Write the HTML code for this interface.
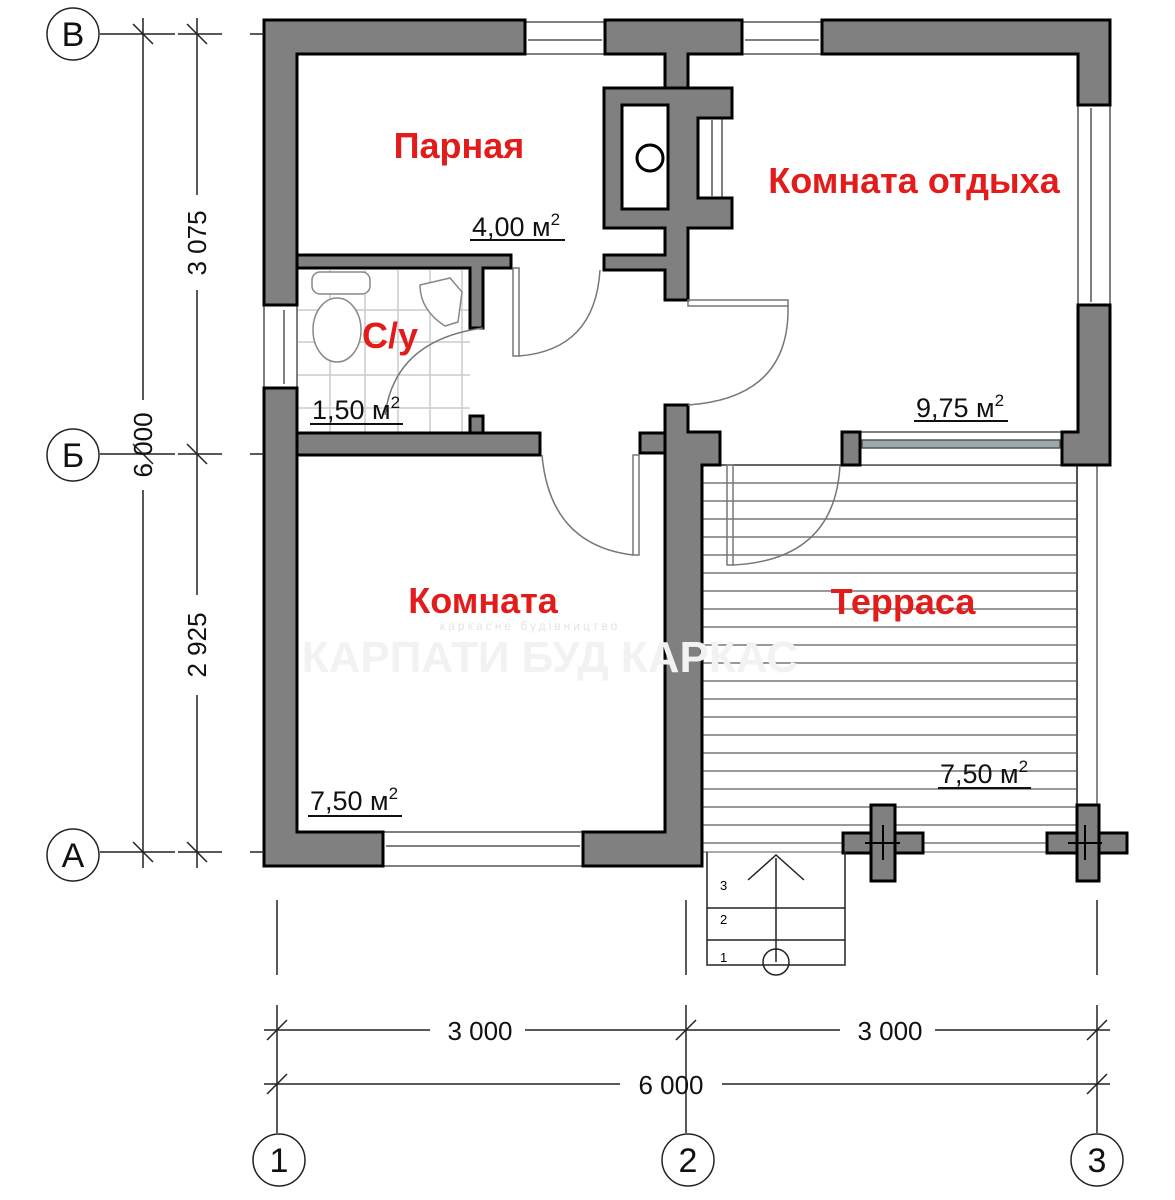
<!DOCTYPE html>
<html><head><meta charset="utf-8"><style>
html,body{margin:0;padding:0;background:#fff;}
svg{display:block;}
text{font-family:"Liberation Sans",sans-serif;}
.w{fill:#808080;stroke:#000;stroke-width:3;}
.r{fill:#e21b1b;font-weight:bold;font-size:36px;}
.a{font-size:27px;fill:#111;}
.d{font-size:26px;fill:#111;}
</style></head><body>
<svg width="1175" height="1200" viewBox="0 0 1175 1200" xmlns="http://www.w3.org/2000/svg">
<g stroke="#999" stroke-width="2">
<line x1="700" y1="483" x2="1077" y2="483"/><line x1="700" y1="501" x2="1077" y2="501"/><line x1="700" y1="519" x2="1077" y2="519"/><line x1="700" y1="537" x2="1077" y2="537"/><line x1="700" y1="555" x2="1077" y2="555"/><line x1="700" y1="573" x2="1077" y2="573"/><line x1="700" y1="591" x2="1077" y2="591"/><line x1="700" y1="609" x2="1077" y2="609"/><line x1="700" y1="627" x2="1077" y2="627"/><line x1="700" y1="645" x2="1077" y2="645"/><line x1="700" y1="663" x2="1077" y2="663"/><line x1="700" y1="681" x2="1077" y2="681"/><line x1="700" y1="699" x2="1077" y2="699"/><line x1="700" y1="717" x2="1077" y2="717"/><line x1="700" y1="735" x2="1077" y2="735"/><line x1="700" y1="753" x2="1077" y2="753"/><line x1="700" y1="771" x2="1077" y2="771"/><line x1="700" y1="789" x2="1077" y2="789"/><line x1="700" y1="807" x2="1077" y2="807"/><line x1="700" y1="825" x2="1077" y2="825"/><line x1="700" y1="843" x2="1077" y2="843"/>
</g>
<line x1="700" y1="465" x2="1077" y2="465" stroke="#333" stroke-width="1.5"/>
<line x1="1077" y1="465" x2="1077" y2="852" stroke="#555" stroke-width="2"/>
<line x1="1097" y1="465" x2="1097" y2="830" stroke="#888" stroke-width="2"/>
<line x1="700" y1="852" x2="1100" y2="852" stroke="#aaa" stroke-width="2"/>
<g stroke="#ccc" stroke-width="1.5">
<line x1="330" y1="270" x2="330" y2="432"/><line x1="365" y1="270" x2="365" y2="432"/><line x1="398" y1="270" x2="398" y2="432"/><line x1="430" y1="270" x2="430" y2="432"/><line x1="462" y1="270" x2="462" y2="432"/>
<line x1="297" y1="310" x2="470" y2="310"/><line x1="297" y1="342" x2="470" y2="342"/><line x1="297" y1="375" x2="470" y2="375"/><line x1="297" y1="408" x2="470" y2="408"/>
</g>
<rect x="312" y="272" width="58" height="22" rx="8" fill="#fff" stroke="#888" stroke-width="1.5"/>
<ellipse cx="337" cy="330" rx="24" ry="32" fill="#fff" stroke="#888" stroke-width="1.5"/>
<path d="M420 285 L450 278 L462 292 L458 322 L445 326 Q420 310 420 285Z" fill="#fff" stroke="#888" stroke-width="1.5"/>
<g fill="#fff" stroke="#555" stroke-width="1.5">
<rect x="525" y="22" width="80" height="32"/><line x1="528" y1="40" x2="602" y2="40"/>
<rect x="742" y="22" width="80" height="32"/><line x1="745" y1="40" x2="819" y2="40"/>
<rect x="1078" y="105" width="32" height="200"/><line x1="1091" y1="108" x2="1091" y2="302"/>
<rect x="264" y="305" width="33" height="83"/><line x1="284" y1="310" x2="284" y2="384"/>
<rect x="383" y="832" width="200" height="34"/><line x1="386" y1="846" x2="580" y2="846"/>
<rect x="860" y="432" width="202" height="33"/><rect x="862" y="440" width="198" height="8" fill="#9aa"/>
<rect x="698" y="118" width="24" height="80"/><line x1="712" y1="120" x2="712" y2="196"/>
</g>
<path class="w" d="M264 20 H525 V54 H297 V305 H264 Z"/>
<path class="w" d="M605 20 H742 V54 H688 V88 H665 V54 H605 Z"/>
<path class="w" d="M822 20 H1110 V105 H1078 V54 H822 Z"/>
<path class="w" d="M1078 305 H1110 V465 H1062 V432 H1078 Z"/>
<path class="w" d="M264 388 H297 V832 H383 V866 H264 Z"/>
<path class="w" d="M583 832 H665 V405 H688 V432 H720 V465 H702 V866 H583 Z"/>
<path class="w" d="M297 433 H540 V455 H297 Z"/>
<path class="w" d="M470 416 H483 V433 H470 Z"/>
<path class="w" d="M640 433 H665 V453 H640 Z"/>
<path class="w" d="M842 432 H860 V465 H842 Z"/>
<path class="w" d="M297 255 H511 V268 H483 V328 H470 V268 H297 Z"/>
<path class="w" d="M604 88 H732 V118 H698 V198 H732 V228 H688 V300 H665 V270 H604 V255 H665 V228 H604 Z"/>
<rect x="622" y="105" width="46" height="104" fill="#fff" stroke="#000" stroke-width="3"/>
<circle cx="650" cy="158" r="13" fill="none" stroke="#000" stroke-width="3"/>
<g fill="none" stroke="#777" stroke-width="1.5">
<rect x="513" y="268" width="6" height="88"/><path d="M519 356 Q595 350 600 270"/>
<rect x="688" y="300" width="100" height="6"/><path d="M788 306 Q790 398 688 405"/>
<path d="M483 328 Q395 340 385 415"/>
<rect x="633" y="455" width="6" height="100"/><path d="M542 455 Q550 545 633 555"/>
<rect x="727" y="465" width="6" height="100"/><path d="M733 565 Q835 560 840 465"/>
</g>
<g class="w"><rect x="843" y="833" width="80" height="20"/><rect x="871" y="805" width="24" height="76"/>
<rect x="1047" y="833" width="80" height="20"/><rect x="1077" y="805" width="22" height="76"/></g>
<g stroke="#000" stroke-width="2"><line x1="865" y1="843" x2="900" y2="843"/><line x1="883" y1="825" x2="883" y2="860"/><line x1="1068" y1="843" x2="1102" y2="843"/><line x1="1085" y1="825" x2="1085" y2="860"/></g>
<g fill="none" stroke="#222" stroke-width="1.5">
<path d="M707 852 V965 H845 V852"/><line x1="707" y1="908" x2="845" y2="908"/><line x1="707" y1="940" x2="845" y2="940"/>
<line x1="776" y1="962" x2="776" y2="858"/><path d="M748 880 L776 855 L804 880"/><circle cx="776" cy="962" r="13"/>
</g>
<text x="720" y="890" font-size="13">3</text><text x="720" y="924" font-size="13">2</text><text x="720" y="962" font-size="13">1</text>
<text x="530" y="630" font-size="12" fill="#e4e4e4" text-anchor="middle" letter-spacing="3">каркасне будівництво</text>
<text x="550" y="672" font-size="44" font-weight="bold" fill="#f2f2f2" text-anchor="middle">КАРПАТИ БУД КАРКАС</text>
<text class="r" x="459" y="158" text-anchor="middle">Парная</text>
<text class="r" x="914" y="193" text-anchor="middle">Комната отдыха</text>
<text class="r" x="390" y="348" text-anchor="middle">С/у</text>
<text class="r" x="483" y="613" text-anchor="middle">Комната</text>
<text class="r" x="903" y="614" text-anchor="middle">Терраса</text>
<g class="a">
<text x="472" y="236">4,00 м<tspan font-size="17" dy="-11">2</tspan></text>
<text x="312" y="419">1,50 м<tspan font-size="17" dy="-11">2</tspan></text>
<text x="916" y="417">9,75 м<tspan font-size="17" dy="-11">2</tspan></text>
<text x="310" y="810">7,50 м<tspan font-size="17" dy="-11">2</tspan></text>
<text x="940" y="783">7,50 м<tspan font-size="17" dy="-11">2</tspan></text>
</g>
<g stroke="#111" stroke-width="2">
<line x1="470" y1="240" x2="565" y2="240"/><line x1="310" y1="424" x2="403" y2="424"/>
<line x1="914" y1="421" x2="1008" y2="421"/><line x1="308" y1="816" x2="402" y2="816"/>
<line x1="938" y1="788" x2="1031" y2="788"/>
</g>
<g stroke="#222" stroke-width="1.5" fill="none">
<line x1="143" y1="18" x2="143" y2="400"/><line x1="143" y1="490" x2="143" y2="868"/>
<line x1="197" y1="18" x2="197" y2="195"/><line x1="197" y1="290" x2="197" y2="595"/><line x1="197" y1="695" x2="197" y2="868"/>
<line x1="100" y1="34" x2="175" y2="34"/><line x1="178" y1="34" x2="222" y2="34"/><line x1="250" y1="34" x2="264" y2="34"/>
<line x1="100" y1="454" x2="175" y2="454"/><line x1="178" y1="454" x2="222" y2="454"/><line x1="250" y1="454" x2="264" y2="454"/>
<line x1="100" y1="852" x2="175" y2="852"/><line x1="178" y1="852" x2="222" y2="852"/><line x1="250" y1="852" x2="264" y2="852"/>
<line x1="133" y1="24" x2="153" y2="44"/><line x1="187" y1="24" x2="207" y2="44"/>
<line x1="133" y1="444" x2="153" y2="464"/><line x1="187" y1="444" x2="207" y2="464"/>
<line x1="133" y1="842" x2="153" y2="862"/><line x1="187" y1="842" x2="207" y2="862"/>
<circle cx="73" cy="34" r="26"/><circle cx="73" cy="455" r="26"/><circle cx="73" cy="855" r="26"/>
<line x1="277" y1="900" x2="277" y2="975"/><line x1="277" y1="1005" x2="277" y2="1133"/>
<line x1="686" y1="900" x2="686" y2="975"/><line x1="686" y1="1005" x2="686" y2="1133"/>
<line x1="1097" y1="900" x2="1097" y2="975"/><line x1="1097" y1="1005" x2="1097" y2="1133"/>
<line x1="264" y1="1030" x2="430" y2="1030"/><line x1="525" y1="1030" x2="840" y2="1030"/><line x1="935" y1="1030" x2="1110" y2="1030"/>
<line x1="264" y1="1084" x2="620" y2="1084"/><line x1="722" y1="1084" x2="1110" y2="1084"/>
<line x1="267" y1="1040" x2="287" y2="1020"/><line x1="676" y1="1040" x2="696" y2="1020"/><line x1="1087" y1="1040" x2="1107" y2="1020"/>
<line x1="267" y1="1094" x2="287" y2="1074"/><line x1="1087" y1="1094" x2="1107" y2="1074"/>
<circle cx="279" cy="1160" r="26"/><circle cx="688" cy="1160" r="26"/><circle cx="1097" cy="1160" r="26"/>
</g>
<g class="d" text-anchor="middle">
<text x="73" y="46" font-size="34">В</text><text x="73" y="467" font-size="34">Б</text><text x="73" y="867" font-size="34">А</text>
<text x="279" y="1172" font-size="34">1</text><text x="688" y="1172" font-size="34">2</text><text x="1097" y="1172" font-size="34">3</text>
<text x="480" y="1040">3 000</text><text x="890" y="1040">3 000</text><text x="671" y="1094">6 000</text>
<text transform="translate(206,243) rotate(-90)">3 075</text>
<text transform="translate(206,645) rotate(-90)">2 925</text>
<text transform="translate(152,445) rotate(-90)">6 000</text>
</g>
</svg>
</body></html>
